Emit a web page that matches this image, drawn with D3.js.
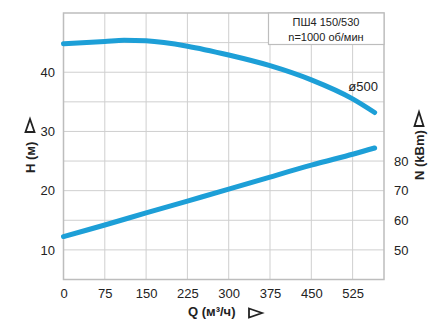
<!DOCTYPE html>
<html>
<head>
<meta charset="utf-8">
<script src="https://cdn.jsdelivr.net/npm/d3@7"></script>
<style>
  body { margin: 0; background: #fff; }
  svg text { font-family: "Liberation Sans", Arial, sans-serif; fill: #222; }
</style>
</head>
<body>
<div id="chart"></div>
<script>
// data
var qTicks = [0, 75, 150, 225, 300, 375, 450, 525];
var hTicks = [10, 20, 30, 40];
var hGrid = [10, 15, 20, 25, 30, 35, 40, 45];
var nTicks = [50, 60, 70, 80];

var headQ = [0, 75, 110, 150, 225, 300, 375, 450, 525, 565];
var headH = [44.8, 45.2, 45.4, 45.3, 44.4, 42.9, 41.1, 38.7, 35.5, 33.2];

var powerQ = [0, 75, 150, 225, 300, 375, 450, 525, 565];
var powerN = [54.5, 58.4, 62.5, 66.5, 70.5, 74.6, 78.6, 82.3, 84.4];

var svgWidth = 443, svgHeight = 322;
var plotL = 63.5, plotR = 384, plotT = 13, plotB = 279.5;
var blue = "#1d9fd7";

var svg = d3.select("#chart").append("svg")
  .attr("width", svgWidth)
  .attr("height", svgHeight);

var xScale = d3.scaleLinear().domain([0, 582]).range([plotL, plotR]);
var yScale = d3.scaleLinear().domain([5, 50]).range([plotB, plotT]);
// N axis shares the grid: N = 2H + 30
var nScale = d3.scaleLinear().domain([40, 130]).range([plotB, plotT]);

// grid
svg.append("g").selectAll("line")
  .data(qTicks.slice(1))
  .enter().append("line")
  .attr("x1", d => xScale(d)).attr("x2", d => xScale(d))
  .attr("y1", plotT).attr("y2", plotB)
  .attr("stroke", "#cfcfcf").attr("stroke-width", 1);

svg.append("g").selectAll("line")
  .data(hGrid)
  .enter().append("line")
  .attr("x1", plotL).attr("x2", plotR)
  .attr("y1", d => yScale(d)).attr("y2", d => yScale(d))
  .attr("stroke", "#cfcfcf").attr("stroke-width", 1);

svg.append("rect")
  .attr("x", plotL).attr("y", plotT)
  .attr("width", plotR - plotL).attr("height", plotB - plotT)
  .attr("fill", "none").attr("stroke", "#bdbdbd").attr("stroke-width", 1.5);

// axes (labels only)
var xAxis = d3.axisBottom(xScale).tickValues(qTicks).tickSize(0).tickPadding(0);
var gx = svg.append("g").attr("transform", `translate(0, ${plotB + 14})`).call(xAxis);
var yAxis = d3.axisLeft(yScale).tickValues(hTicks).tickSize(0).tickPadding(8.5);
var gy = svg.append("g").attr("transform", `translate(${plotL}, 0)`).call(yAxis);
var nAxis = d3.axisRight(nScale).tickValues(nTicks).tickSize(0).tickPadding(10);
var gn = svg.append("g").attr("transform", `translate(${plotR}, 0)`).call(nAxis);

[gx, gy, gn].forEach(function (g) {
  g.select(".domain").remove();
  g.selectAll("text")
    .style("font-size", "13px")
    .style("font-family", "Liberation Sans, Arial, sans-serif")
    .attr("fill", "#222");
});
gx.selectAll("text").attr("dy", "0.32em");

// curves
var headLine = d3.line()
  .x((d, i) => xScale(headQ[i]))
  .y(d => yScale(d))
  .curve(d3.curveMonotoneX);

var powerLine = d3.line()
  .x((d, i) => xScale(powerQ[i]))
  .y(d => nScale(d))
  .curve(d3.curveCatmullRom);

svg.append("path").datum(powerN)
  .attr("d", powerLine)
  .attr("fill", "none").attr("stroke", blue)
  .attr("stroke-width", 5).attr("stroke-linecap", "round");

svg.append("path").datum(headH)
  .attr("d", headLine)
  .attr("fill", "none").attr("stroke", blue)
  .attr("stroke-width", 5).attr("stroke-linecap", "round");

svg.append("text")
  .attr("x", 378).attr("y", 90.5)
  .attr("text-anchor", "end")
  .style("font-size", "13px")
  .text("ø500");

// info box
svg.append("rect")
  .attr("x", 268.5).attr("y", plotT)
  .attr("width", plotR - 268.5).attr("height", 31.5)
  .attr("fill", "#fff").attr("stroke", "#bdbdbd").attr("stroke-width", 1.2);

svg.append("text")
  .attr("x", 326).attr("y", 26)
  .attr("text-anchor", "middle")
  .style("font-size", "11px")
  .text("ПШ4 150/530");
svg.append("text")
  .attr("x", 326).attr("y", 41)
  .attr("text-anchor", "middle")
  .style("font-size", "11px")
  .text("n=1000 об/мин");

// axis titles
svg.append("text")
  .attr("x", 188).attr("y", 316)
  .style("font-size", "13px").style("font-weight", "bold")
  .text("Q (м³/ч)");
svg.append("path")
  .attr("d", "M249,308.5 L262,313 L249,317.5 Z")
  .attr("fill", "none").attr("stroke", "#222").attr("stroke-width", 1.8)
  .attr("stroke-linejoin", "miter");

svg.append("text")
  .attr("transform", "translate(35, 173) rotate(-90)")
  .style("font-size", "13px").style("font-weight", "bold")
  .text("H (м)");
svg.append("path")
  .attr("d", "M25.5,132 L30,119 L34.5,132 Z")
  .attr("fill", "none").attr("stroke", "#222").attr("stroke-width", 1.8);

svg.append("text")
  .attr("transform", "translate(424, 180) rotate(-90)")
  .style("font-size", "13px").style("font-weight", "bold")
  .text("N (kBm)");
svg.append("path")
  .attr("d", "M414.5,126 L419,112 L423.5,126 Z")
  .attr("fill", "none").attr("stroke", "#222").attr("stroke-width", 1.8);
</script>
</body>
</html>
